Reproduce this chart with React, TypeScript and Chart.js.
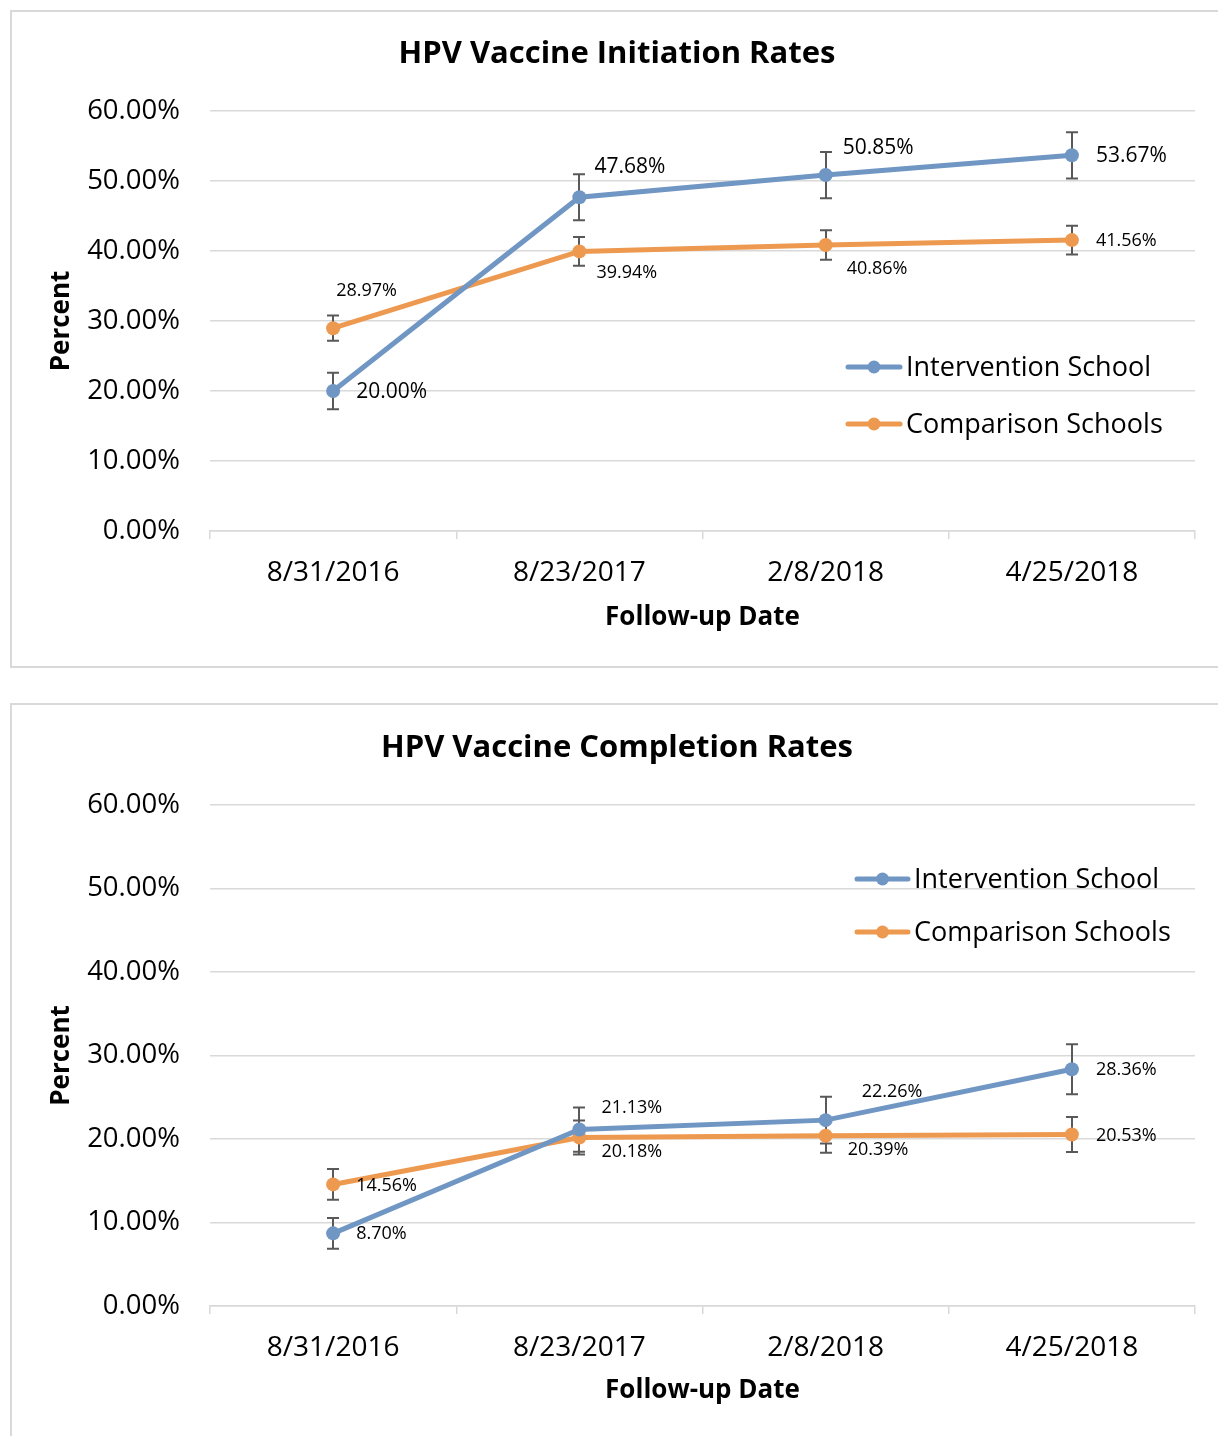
import React, { useEffect, useRef } from 'react';
import { Chart, registerables } from 'chart.js';

Chart.register(...registerables);

const categories = ['8/31/2016', '8/23/2017', '2/8/2018', '4/25/2018'];
const seriesNames = ['Intervention School', 'Comparison Schools'];

const initiationIntervention = [20.0, 47.68, 50.85, 53.67];
const initiationComparison = [28.97, 39.94, 40.86, 41.56];
const initiationInterventionErr = [2.6, 3.3, 3.3, 3.3];
const initiationComparisonErr = [1.8, 2.05, 2.1, 2.05];

const completionIntervention = [8.7, 21.13, 22.26, 28.36];
const completionComparison = [14.56, 20.18, 20.39, 20.53];
const completionInterventionErr = [1.85, 2.65, 2.8, 3.0];
const completionComparisonErr = [1.85, 2.05, 2.05, 2.1];

const yMin = 0;
const yMax = 60;
const yStep = 10;

const FONT = "'Open Sans', sans-serif";
const BLUE = '#7096c4';
const ORANGE = '#ed9950';
const GRID = '#d9d9d9';

const overlayPlugin = {
  id: 'overlay',
  beforeDatasetsDraw(chart: any, _args: any, opts: any) {
    const ctx = chart.ctx;
    const ys = chart.scales.y;
    ctx.save();
    ctx.strokeStyle = '#595959';
    ctx.lineWidth = 2;
    chart.data.datasets.forEach((ds: any, i: number) => {
      const meta = chart.getDatasetMeta(i);
      const errs = opts.errors[i];
      meta.data.forEach((pt: any, j: number) => {
        const v = ds.data[j];
        const e = errs[j];
        const x = Math.round(pt.x);
        const y1 = ys.getPixelForValue(v + e);
        const y2 = ys.getPixelForValue(v - e);
        ctx.beginPath();
        ctx.moveTo(x, y1);
        ctx.lineTo(x, y2);
        ctx.moveTo(x - 6, y1);
        ctx.lineTo(x + 6, y1);
        ctx.moveTo(x - 6, y2);
        ctx.lineTo(x + 6, y2);
        ctx.stroke();
      });
    });
    ctx.restore();
  },
  afterDatasetsDraw(chart: any, _args: any, opts: any) {
    const ctx = chart.ctx;
    ctx.save();
    ctx.fillStyle = '#000';
    ctx.textAlign = 'left';
    ctx.textBaseline = 'middle';
    chart.data.datasets.forEach((ds: any, i: number) => {
      const meta = chart.getDatasetMeta(i);
      ctx.font = opts.labelFonts[i];
      meta.data.forEach((pt: any, j: number) => {
        const [dx, dy] = opts.labelOffsets[i][j];
        ctx.fillText(ds.data[j].toFixed(2) + '%', pt.x + dx, pt.y + dy);
      });
    });
    ctx.restore();
  },
  afterDraw(chart: any, _args: any, opts: any) {
    const ctx = chart.ctx;
    const ca = chart.chartArea;
    ctx.save();
    ctx.fillStyle = '#000';
    // title
    ctx.font = `bold 31px ${FONT}`;
    ctx.textAlign = 'center';
    ctx.textBaseline = 'middle';
    ctx.fillText(opts.title, 617, opts.titleY);
    // x axis title
    ctx.font = `bold 26px ${FONT}`;
    ctx.fillText('Follow-up Date', (ca.left + ca.right) / 2, opts.xTitleY);
    // y axis title
    ctx.save();
    ctx.translate(62, (ca.top + ca.bottom) / 2);
    ctx.rotate(-Math.PI / 2);
    ctx.fillText('Percent', 0, 0);
    ctx.restore();
    // legend
    const lg = opts.legend;
    chart.data.datasets.forEach((ds: any, i: number) => {
      const y = lg.y[i];
      ctx.strokeStyle = ds.borderColor;
      ctx.lineWidth = 5;
      ctx.lineCap = 'round';
      ctx.beginPath();
      ctx.moveTo(lg.x0, y);
      ctx.lineTo(lg.x1, y);
      ctx.stroke();
      ctx.fillStyle = ds.borderColor;
      ctx.beginPath();
      ctx.arc((lg.x0 + lg.x1) / 2, y, 6.5, 0, Math.PI * 2);
      ctx.fill();
      ctx.fillStyle = '#000';
      ctx.font = `27px ${FONT}`;
      ctx.textAlign = 'left';
      ctx.textBaseline = 'middle';
      ctx.fillText(ds.label, lg.x1 + 6, y + 1);
    });
    ctx.restore();
  },
};

type PanelProps = {
  title: string;
  interv: number[];
  comp: number[];
  intervErr: number[];
  compErr: number[];
  height: number;
  plotTop: number;
  plotBottom: number;
  titleY: number;
  xTitleY: number;
  legend: { x0: number; x1: number; y: number[] };
  labelOffsets: number[][][];
  labelFonts: string[];
};

function ChartPanel(p: PanelProps) {
  const ref = useRef<HTMLCanvasElement | null>(null);
  useEffect(() => {
    if (!ref.current) return;
    const xh = p.height - p.plotBottom;
    const chart = new Chart(ref.current, {
      type: 'line',
      data: {
        labels: categories,
        datasets: [
          {
            label: seriesNames[0],
            data: p.interv,
            borderColor: BLUE,
            backgroundColor: BLUE,
            borderWidth: 5,
            pointRadius: 7,
            pointBorderWidth: 0,
            pointBackgroundColor: BLUE,
            tension: 0,
          },
          {
            label: seriesNames[1],
            data: p.comp,
            borderColor: ORANGE,
            backgroundColor: ORANGE,
            borderWidth: 5,
            pointRadius: 7,
            pointBorderWidth: 0,
            pointBackgroundColor: ORANGE,
            tension: 0,
          },
        ],
      },
      options: {
        responsive: false,
        animation: false,
        devicePixelRatio: 1,
        layout: { padding: { top: p.plotTop, right: 23, left: 0, bottom: 0 } },
        plugins: {
          legend: { display: false },
          title: { display: false },
          tooltip: { enabled: false },
          overlay: {
            errors: [p.intervErr, p.compErr],
            labelOffsets: p.labelOffsets,
            labelFonts: p.labelFonts,
            title: p.title,
            titleY: p.titleY,
            xTitleY: p.xTitleY,
            legend: p.legend,
          },
        } as any,
        scales: {
          x: {
            type: 'category',
            offset: true,
            grid: {
              offset: true,
              drawOnChartArea: false,
              drawTicks: true,
              tickLength: 8,
              color: GRID,
              lineWidth: 1.5,
            },
            border: { display: true, color: GRID, width: 1.5 },
            ticks: {
              color: '#000',
              font: { family: FONT, size: 28 },
              padding: 17,
              maxRotation: 0,
              autoSkip: false,
            },
            afterFit: (s: any) => {
              s.height = xh;
            },
          },
          y: {
            min: yMin,
            max: yMax,
            grid: { color: GRID, lineWidth: 1.5, drawTicks: false },
            border: { display: false },
            ticks: {
              stepSize: yStep,
              color: '#000',
              font: { family: FONT, size: 27.5 },
              padding: 30,
              callback: (v: any) => Number(v).toFixed(2) + '%',
            },
            afterFit: (s: any) => {
              s.width = 210;
            },
          },
        },
      },
      plugins: [overlayPlugin as any],
    });
    return () => chart.destroy();
  }, []);
  return <canvas ref={ref} width={1218} height={p.height} style={{ display: 'block', width: 1218, height: p.height }} />;
}

export default function App() {
  return (
    <div style={{ position: 'absolute', left: 0, top: 0, width: 1218, height: 1436, overflow: 'hidden', background: '#fff' }}>
      <div style={{ position: 'absolute', left: 10, top: 10, width: 1300, height: 654, border: `2px solid ${GRID}` }} />
      <div style={{ position: 'absolute', left: 10, top: 703, width: 1300, height: 800, border: `2px solid ${GRID}` }} />
      <div style={{ position: 'absolute', left: 0, top: 0 }}>
        <ChartPanel
          title="HPV Vaccine Initiation Rates"
          interv={initiationIntervention}
          comp={initiationComparison}
          intervErr={initiationInterventionErr}
          compErr={initiationComparisonErr}
          height={668}
          plotTop={111}
          plotBottom={531}
          titleY={54}
          xTitleY={618}
          legend={{ x0: 848, x1: 900, y: [367, 424] }}
          labelOffsets={[
            [[23, 1], [15, -30], [17, -27], [24, 1]],
            [[3, -37], [17, 21], [21, 24], [24, 1]],
          ]}
          labelFonts={[`21px ${FONT}`, `18px ${FONT}`]}
        />
      </div>
      <div style={{ position: 'absolute', left: 0, top: 704 }}>
        <ChartPanel
          title="HPV Vaccine Completion Rates"
          interv={completionIntervention}
          comp={completionComparison}
          intervErr={completionInterventionErr}
          compErr={completionComparisonErr}
          height={732}
          plotTop={101}
          plotBottom={602}
          titleY={44}
          xTitleY={687}
          legend={{ x0: 857, x1: 908, y: [175, 228] }}
          labelOffsets={[
            [[23, 1], [22, -22], [36, -28], [24, 1]],
            [[23, 1], [22, 14], [22, 14], [24, 1]],
          ]}
          labelFonts={[`18px ${FONT}`, `18px ${FONT}`]}
        />
      </div>
    </div>
  );
}
